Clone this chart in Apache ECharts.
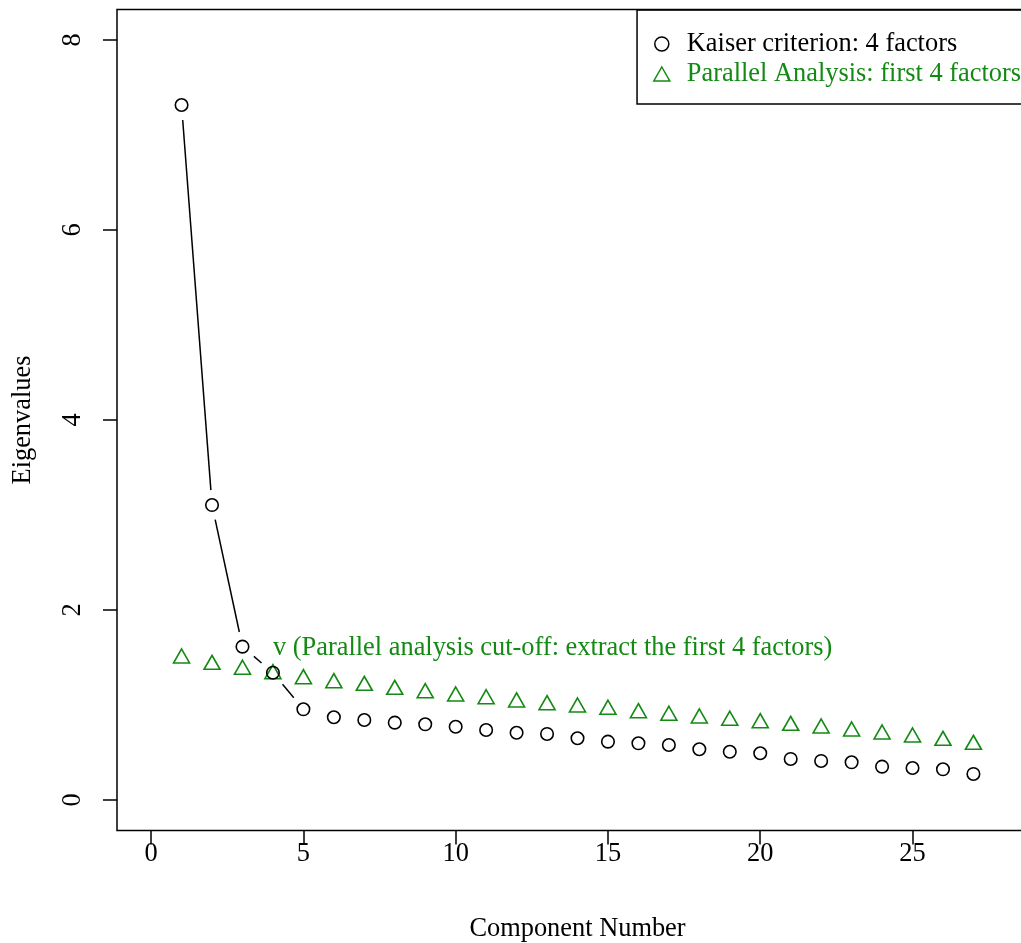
<!DOCTYPE html>
<html>
<head>
<meta charset="utf-8">
<title>Scree plot</title>
<script src="https://cdn.jsdelivr.net/npm/echarts@6/dist/echarts.min.js"></script>
<style>
  html, body { margin: 0; padding: 0; background: #fff; }
  #chart { width: 1021px; height: 943px; }
</style>
</head>
<body>
<div id="chart"></div>
<script>
// Component numbers on the x axis
const components = [1, 2, 3, 4, 5, 6, 7, 8, 9, 10, 11, 12, 13, 14, 15, 16, 17, 18, 19, 20, 21, 22, 23, 24, 25, 26, 27];

// Observed eigenvalues (Kaiser criterion)
const eigenvalues = [7.316, 3.105, 1.614, 1.340, 0.955, 0.871, 0.842, 0.814, 0.797, 0.771, 0.737, 0.708, 0.695,
  0.650, 0.614, 0.597, 0.579, 0.534, 0.508, 0.492, 0.432, 0.411, 0.397, 0.351, 0.337, 0.323, 0.274];

// Mean eigenvalues from parallel analysis
const parallel = [1.492, 1.425, 1.373, 1.327, 1.274, 1.232, 1.204, 1.162, 1.127, 1.092, 1.063, 1.029, 1.000,
  0.976, 0.952, 0.916, 0.889, 0.860, 0.836, 0.811, 0.783, 0.755, 0.723, 0.692, 0.660, 0.625, 0.583];

// Number of leading components joined by the "b"-style line
const linkedCount = 5;

// Tick values
const xTicks = [0, 5, 10, 15, 20, 25];
const yTicks = [0, 2, 4, 6, 8];

// Texts
const kaiserName = 'Kaiser criterion: 4 factors';
const parallelName = 'Parallel Analysis: first 4 factors';
const cutoffText = 'v (Parallel analysis cut-off: extract the first 4 factors)';
const cutoffPoint = [4, 1.6];
const xTitle = 'Component Number';
const yTitle = 'Eigenvalues';

const FONT = "'Liberation Serif', 'Times New Roman', serif";
const GREEN = '#138a13';
const FS = 26.4;

const kaiserData = components.map((c, i) => [c, eigenvalues[i]]);
const parallelData = components.map((c, i) => [c, parallel[i]]);
const segments = [];
for (let i = 0; i < linkedCount - 1; i++) {
  segments.push([components[i], eigenvalues[i], components[i + 1], eigenvalues[i + 1]]);
}

const chart = echarts.init(document.getElementById('chart'), null, { renderer: 'canvas' });

chart.setOption({
  animation: false,
  backgroundColor: '#fff',
  textStyle: { fontFamily: FONT },
  grid: {
    left: 117, top: 9.6, right: -17, bottom: 112.6,
    show: true, borderColor: '#000', borderWidth: 1.5, backgroundColor: 'transparent',
    containLabel: false, outerBoundsMode: 'none'
  },
  legend: {
    orient: 'vertical',
    right: -17,
    top: 10,
    padding: [19, 17, 15, 16],
    itemGap: 0,
    itemWidth: 16,
    itemHeight: 14,
    borderColor: '#000',
    borderWidth: 1.5,
    selectedMode: false,
    textStyle: { fontFamily: FONT, fontSize: FS, lineHeight: 30, color: '#000', padding: [0, 0, 0, 12] },
    data: [
      {
        name: kaiserName,
        icon: 'circle',
        itemStyle: { color: 'transparent', borderColor: '#000', borderWidth: 1.5 },
        textStyle: { color: '#000' }
      },
      {
        name: parallelName,
        icon: 'triangle',
        itemStyle: { color: 'transparent', borderColor: GREEN, borderWidth: 1.5 },
        textStyle: { color: GREEN }
      }
    ]
  },
  xAxis: {
    type: 'value',
    min: -1.12,
    max: 29.12,
    name: xTitle,
    nameLocation: 'middle',
    nameGap: 85,
    nameTextStyle: { fontFamily: FONT, fontSize: FS, color: '#000', lineHeight: 28 },
    axisLine: { show: false, onZero: false },
    splitLine: { show: false },
    axisTick: { show: true, length: 14, customValues: xTicks, lineStyle: { color: '#000', width: 1.5 } },
    axisLabel: {
      customValues: xTicks, margin: 10,
      fontFamily: FONT, fontSize: FS, color: '#000', lineHeight: 28
    }
  },
  yAxis: {
    type: 'value',
    min: -0.32,
    max: 8.32,
    name: yTitle,
    nameLocation: 'middle',
    nameRotate: 90,
    nameGap: 80,
    nameTextStyle: { fontFamily: FONT, fontSize: FS, color: '#000', lineHeight: 28 },
    axisLine: { show: false, onZero: false },
    splitLine: { show: false },
    axisTick: { show: true, length: 14, customValues: yTicks, lineStyle: { color: '#000', width: 1.5 } },
    axisLabel: {
      customValues: yTicks, margin: 30, rotate: 90,
      fontFamily: FONT, fontSize: FS, color: '#000', lineHeight: 28
    }
  },
  series: [
    {
      // line through the leading eigenvalues, broken around each point
      type: 'custom',
      name: 'link',
      silent: true,
      clip: false,
      encode: { x: [0, 2], y: [1, 3] },
      data: segments,
      renderItem: function (params, api) {
        const p1 = api.coord([api.value(0), api.value(1)]);
        const p2 = api.coord([api.value(2), api.value(3)]);
        const dx = p2[0] - p1[0], dy = p2[1] - p1[1];
        const len = Math.sqrt(dx * dx + dy * dy);
        const gap = 15;
        if (len <= 2 * gap) return null;
        const ux = dx / len, uy = dy / len;
        return {
          type: 'line',
          shape: {
            x1: p1[0] + ux * gap, y1: p1[1] + uy * gap,
            x2: p2[0] - ux * gap, y2: p2[1] - uy * gap
          },
          style: { stroke: '#000', lineWidth: 1.5 }
        };
      },
      z: 2
    },
    {
      type: 'scatter',
      name: parallelName,
      data: parallelData,
      symbol: 'triangle',
      symbolSize: [16, 14],
      symbolOffset: [0, -2.3],
      itemStyle: { color: 'transparent', borderColor: GREEN, borderWidth: 1.6, opacity: 1 },
      emphasis: { disabled: true },
      z: 3
    },
    {
      type: 'scatter',
      name: kaiserName,
      data: kaiserData,
      symbol: 'circle',
      symbolSize: 12.5,
      itemStyle: { color: 'transparent', borderColor: '#000', borderWidth: 1.6, opacity: 1 },
      emphasis: { disabled: true },
      z: 4
    },
    {
      type: 'scatter',
      name: 'cutoff',
      data: [cutoffPoint],
      symbolSize: 0,
      silent: true,
      itemStyle: { opacity: 1 },
      label: {
        show: true,
        position: 'right',
        distance: 0,
        formatter: cutoffText,
        fontFamily: FONT,
        fontSize: FS,
        color: GREEN,
        opacity: 1
      },
      emphasis: { disabled: true },
      z: 5
    }
  ]
});
</script>
</body>
</html>
